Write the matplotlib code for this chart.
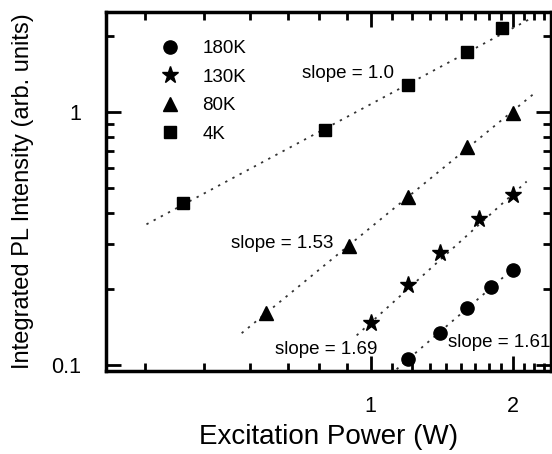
import numpy as np
import matplotlib
matplotlib.use("Agg")
import matplotlib.pyplot as plt
from matplotlib.ticker import FixedLocator, NullFormatter, FixedFormatter

plt.rcParams['font.family'] = ['Liberation Sans', 'DejaVu Sans']

# ---- data ----
x_180K = [1.2, 1.4, 1.6, 1.8, 2.0]
y_180K = [0.1056, 0.1337, 0.168, 0.203, 0.2375]
x_130K = [1.0, 1.2, 1.4, 1.7, 2.0]
y_130K = [0.1466, 0.207, 0.277, 0.378, 0.470]
x_80K = [0.6, 0.9, 1.2, 1.6, 2.0]
y_80K = [0.161, 0.295, 0.461, 0.727, 0.99]
x_4K = [0.4, 0.8, 1.2, 1.6, 1.9]
y_4K = [0.437, 0.849, 1.278, 1.727, 2.148]

# fitted power laws: y = A * x**slope over [x0, x1]
fit_slopes = [1.61, 1.69, 1.53, 1.0]
fit_amps = [0.0785, 0.147, 0.35, 1.075]
fit_ranges = [(1.135, 2.05), (0.934, 2.14), (0.533, 2.25), (0.335, 2.2)]

labels = ['180K', '130K', '80K', '4K']
slope_texts = ['slope = 1.61', 'slope = 1.69', 'slope = 1.53', 'slope = 1.0']
slope_text_pos = [(1.456, 0.1233), (0.626, 0.1147), (0.507, 0.303), (0.714, 1.427)]

x_major = [1, 2]
x_major_labels = ['1', '2']
y_major = [0.1, 1]
y_major_labels = ['0.1', '1']

# ---- figure ----
fig = plt.figure(figsize=(5.52, 4.54), dpi=100)
ax = fig.add_axes([106/552, 1-371/454, (551-106)/552, (371-12)/454])
ax.set_xscale('log')
ax.set_yscale('log')

series = [(x_180K, y_180K, 'o', 9.5), (x_130K, y_130K, '*', 12.5),
          (x_80K, y_80K, '^', 10.5), (x_4K, y_4K, 's', 9)]
for (xs, ys, m, ms), lab in zip(series, labels):
    ax.plot(xs, ys, linestyle='none', marker=m, markersize=ms, color='black',
            label=lab, zorder=3)

for A, s, (x0, x1) in zip(fit_amps, fit_slopes, fit_ranges):
    xx = np.logspace(np.log10(x0), np.log10(x1), 50)
    ax.plot(xx, A * xx**s, linestyle=(0, (1.3, 3.2)), linewidth=1.3,
            color='#333333', zorder=2)

for t, (tx, ty) in zip(slope_texts, slope_text_pos):
    ax.text(tx, ty, t, fontsize=13.5, ha='left', va='center', zorder=4)

ax.set_xlim(0.275, 2.41)
ax.set_ylim(0.0947, 2.49)

# ticks
ax.xaxis.set_major_locator(FixedLocator(x_major))
ax.xaxis.set_major_formatter(FixedFormatter(x_major_labels))
xminor = [k/9 for k in range(1, 9)] + [1 + k/9 for k in range(1, 9)] + [2 + k/9 for k in range(1, 9)]
ax.xaxis.set_minor_locator(FixedLocator(xminor))
ax.xaxis.set_minor_formatter(NullFormatter())

ax.yaxis.set_major_locator(FixedLocator(y_major))
ax.yaxis.set_major_formatter(FixedFormatter(y_major_labels))
yminor = [k/100 for k in range(2, 10)] + [k/10 for k in range(2, 10)] + [k for k in range(2, 10)]
ax.yaxis.set_minor_locator(FixedLocator(yminor))
ax.yaxis.set_minor_formatter(NullFormatter())

ax.tick_params(which='both', direction='in', top=True, right=True, width=2.0, color='black')
ax.tick_params(which='major', length=11)
ax.tick_params(which='minor', length=6)
ax.tick_params(axis='x', which='major', labelsize=15.5, pad=18)
ax.tick_params(axis='y', which='major', labelsize=15.5, pad=18)

for sp in ax.spines.values():
    sp.set_linewidth(2.5)

ax.set_xlabel('Excitation Power (W)', fontsize=20, labelpad=5)
ax.set_ylabel('Integrated PL Intensity (arb. units)', fontsize=17)
ax.yaxis.set_label_coords(-(106-34)/445, 1 - (191-12)/359)

leg = ax.legend(loc='upper left', bbox_to_anchor=((161-106)/445, 1 - (40-12)/359),
                frameon=False, fontsize=13.5, handlelength=1.0, handletextpad=1.2,
                labelspacing=0.61, borderpad=0, borderaxespad=0, numpoints=1)

fig.savefig('out.png', dpi=100)
